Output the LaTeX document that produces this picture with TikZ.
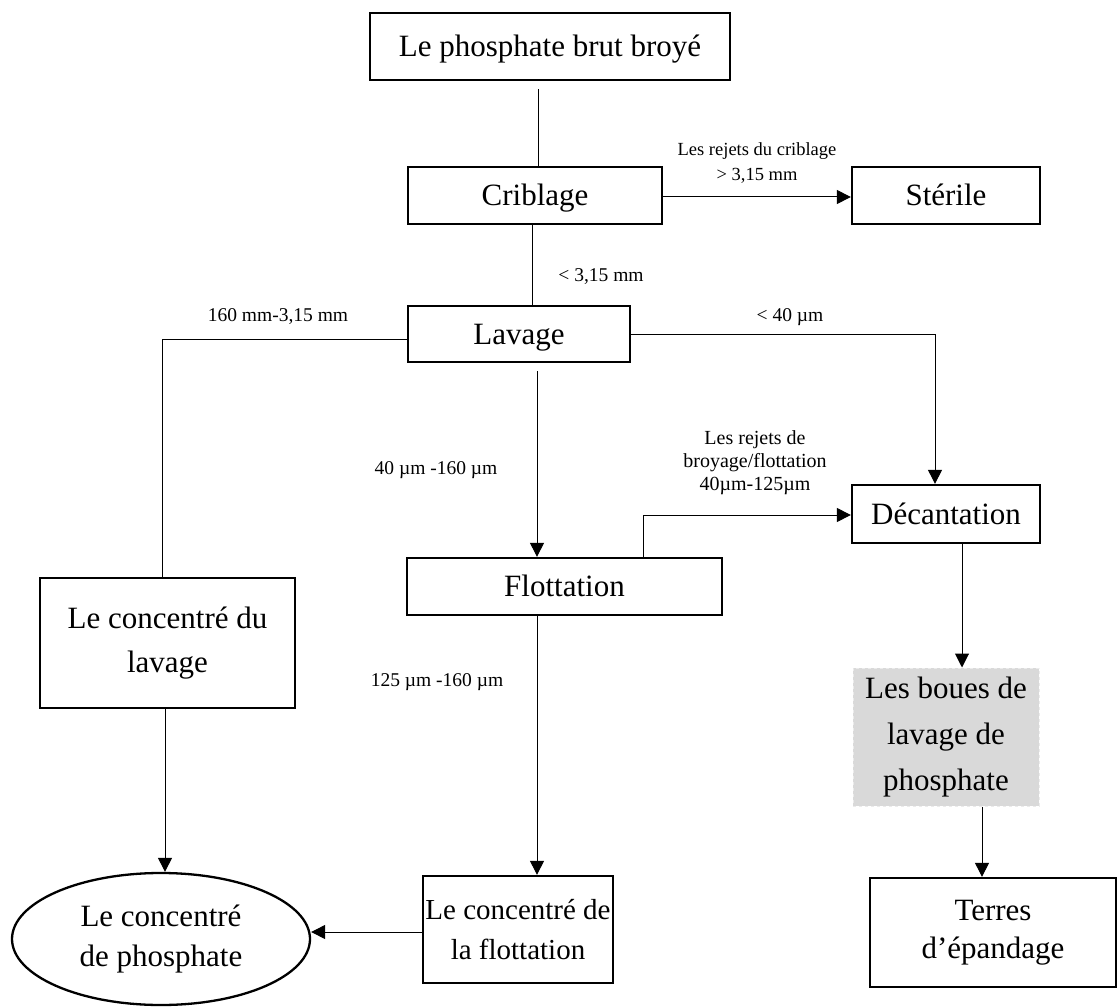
\documentclass[tikz,border=0pt]{standalone}
\usepackage{fontspec}
\setmainfont{Liberation Serif}
\usetikzlibrary{arrows.meta,shapes.geometric}
\begin{document}
\begin{tikzpicture}[x=1pt,y=-1pt,
  box/.style={draw,line width=2.3pt,rectangle,inner sep=0pt,align=center,
    font=\fontsize{31}{40}\selectfont},
  one/.style={text height=20.5pt,text depth=0pt},
  lbl/.style={align=center,inner sep=0pt,font=\fontsize{19.5}{23.5}\selectfont},
  conn/.style={line width=1pt},
  arr/.style={line width=1pt,-{Triangle[length=14pt,width=14pt]}}]
\useasboundingbox (0,0) rectangle (1119,1008);
% nodes
\node[box,one,minimum width=360pt,minimum height=67pt] (top) at (550,46.5) {Le phosphate brut broyé};
\node[box,one,minimum width=254pt,minimum height=57pt] (crib) at (535,195.5) {Criblage};
\node[box,one,minimum width=188pt,minimum height=57pt] (steril) at (946,195.5) {Stérile};
\node[box,one,minimum width=222pt,minimum height=56pt] (lav) at (519,334) {Lavage};
\node[box,one,minimum width=188pt,minimum height=58pt] (decant) at (946,514) {Décantation};
\node[box,one,minimum width=315pt,minimum height=57pt] (flot) at (564.5,586.5) {Flottation};
\node[box,minimum width=255pt,minimum height=130pt,font=\fontsize{31}{44}\selectfont] (conclav) at (167.5,643) {Le concentré du\\lavage};
\node[rectangle,fill=black!15,draw=black!8,dashed,line width=1pt,inner sep=0pt,align=center,
  font=\fontsize{31}{46}\selectfont,minimum width=186pt,minimum height=138pt] (boues) at (946,737) {Les boues de\\lavage de\\phosphate};
\node[box,minimum width=246pt,minimum height=109pt,font=\fontsize{31}{38}\selectfont] (terres) at (993,932.5) {Terres\\d’épandage};
\node[box,minimum width=190pt,minimum height=107pt,font=\fontsize{29}{40}\selectfont] (concflot) at (518,929.5) {Le concentré de\\la flottation};
\node[draw,ellipse,line width=2.3pt,inner sep=0pt,minimum width=298pt,minimum height=132pt,align=center,
  font=\fontsize{31}{40}\selectfont] (ell) at (161,939) {Le concentré\\de phosphate};
% labels
\node[lbl,font=\fontsize{18.5}{25}\selectfont] (l1) at (757,163) {Les rejets du criblage\\> 3,15 mm};
\node[lbl] (l2) at (601,277) {< 3,15 mm};
\node[lbl] (l3) at (278,317) {160 mm-3,15 mm};
\node[lbl] (l4) at (790,317) {< 40 µm};
\node[lbl] (l5) at (436,470) {40 µm -160 µm};
\node[lbl,font=\fontsize{20}{23}\selectfont] (l6) at (755,463) {Les rejets de\\broyage/flottation\\40µm-125µm};
\node[lbl] (l7) at (437,682) {125 µm -160 µm};
% column coordinates
\coordinate (xa) at (538,0);
\coordinate (xb) at (532,0);
\coordinate (xc) at (537,0);
\coordinate (xd) at (162,0);
\coordinate (xe) at (935,0);
\coordinate (xf) at (643,0);
\coordinate (xg) at (962,0);
\coordinate (xh) at (982,0);
\coordinate (xi) at (165,0);
\coordinate (ya) at (0,197);
\coordinate (yb) at (0,339);
\coordinate (yc) at (0,515);
\coordinate (yd) at (0,932);
% connectors
\draw[conn,shorten <=8pt] (top.south -| xa) -- (crib.north -| xa);
\draw[arr] (crib.east |- ya) -- (steril.west |- ya);
\draw[conn] (crib.south -| xb) -- (lav.north -| xb);
\draw[conn] (lav.west |- yb) -| (conclav.north -| xd);
\draw[arr] (lav.east) -| (decant.north -| xe);
\draw[arr,shorten <=8pt] (lav.south -| xc) -- (flot.north -| xc);
\draw[arr] (flot.north -| xf) |- (decant.west |- yc);
\draw[arr] (decant.south -| xg) -- (boues.north -| xg);
\draw[arr] (boues.south -| xh) -- (terres.north -| xh);
\draw[arr] (conclav.south -| xi) -- (ell.north -| xi);
\draw[arr] (flot.south -| xc) -- (concflot.north -| xc);
\draw[arr] (concflot.west |- yd) -- (ell.east |- yd);
\end{tikzpicture}
\end{document}
